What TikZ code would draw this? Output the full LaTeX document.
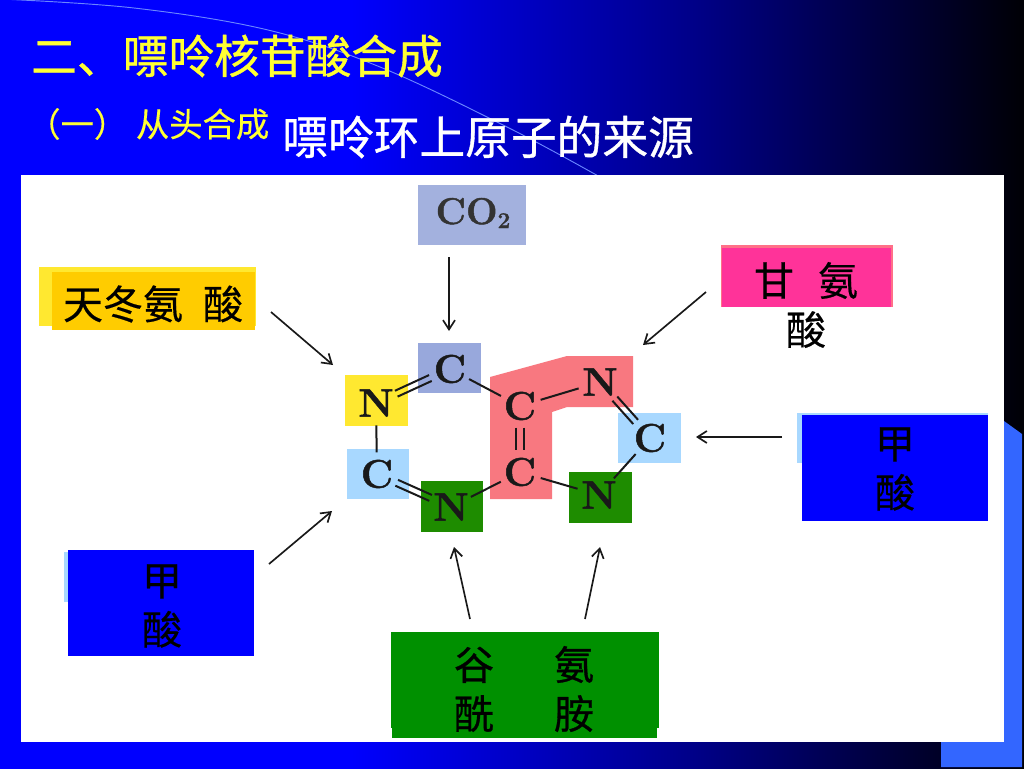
\documentclass[tikz,border=0pt]{standalone}
\usepackage{fontspec}
\usetikzlibrary{arrows.meta}
\setmainfont[BoldFeatures={FakeBold=1.2}]{Latin Modern Roman}
\newfontfamily\cjk[FakeBold=0.4]{Noto Sans CJK SC}
\newfontfamily\cjkb[FakeBold=0.8]{Noto Sans CJK SC}
\pgfdeclarehorizontalshading{slidebg}{100bp}{rgb(0bp)=(0,0,1);rgb(42bp)=(0,0,1);rgb(59bp)=(0,0,0.53);rgb(75bp)=(0,0,0.02);rgb(100bp)=(0,0,0)}
\definecolor{ttlyellow}{HTML}{FFFF33}
\definecolor{boxcotwo}{HTML}{A3B1DE}
\definecolor{boxblue}{HTML}{98A8DC}
\definecolor{boxyellow}{HTML}{FFE830}
\definecolor{boxorange}{HTML}{FFCC00}
\definecolor{boxsky}{HTML}{A8D8FF}
\definecolor{boxgreen}{HTML}{1E8C00}
\definecolor{boxpink}{HTML}{FF3399}
\definecolor{boxpinkback}{HTML}{FF7088}
\definecolor{regionred}{HTML}{F87880}
\definecolor{labelgreen}{HTML}{009000}
\definecolor{cornerblue}{HTML}{3366FF}
\definecolor{swoosh}{HTML}{6A86FF}
\tikzset{
  x=0.75pt,y=-0.75pt,
  colorbox/.style={rectangle,inner sep=0pt,outer sep=0pt,anchor=north west},
  atom/.style={circle,inner sep=0pt,outer sep=0pt,minimum size=26pt,font=\bfseries\fontsize{30}{30}\selectfont,text=black!90},
  bondline/.style={line width=1.5pt,black!90},
  feedarrow/.style={line width=1.25pt,black!90,-{Straight Barb[length=7pt,width=9pt]}},
  labeltext/.style={font=\cjk\fontsize{30}{36.8}\selectfont,text=black,align=center,inner sep=0pt},
  titletext/.style={font=\cjkb\fontsize{34.3}{40}\selectfont,inner sep=0pt,anchor=west}
}
\begin{document}
\begin{tikzpicture}
\useasboundingbox (0,0) rectangle (1024,768);
% slide background
\shade[shading=slidebg] (0,0) rectangle (1024,768);
\draw[swoosh,line width=0.7pt] plot[smooth,tension=0.6] coordinates {(0,-1) (134,8) (268,30) (380,67) (509,128) (600,177)};
% slide corner
\fill[cornerblue] (941,742) -- (1004,742) -- (1004,421) -- (1022,434) -- (1022,767) -- (941,767) -- cycle;
% white panel
\fill[white] (21,175) rectangle (1004,742);
% titles
\node[titletext,text=ttlyellow] (title) at (31,56) {二、嘌呤核苷酸合成};
\node[titletext,text=ttlyellow,font=\cjk\fontsize{25}{30}\selectfont] (subtitle) at (27,124) {（一）\hspace{6.5pt}从头合成};
\node[titletext,text=white] (heading) at (282,137) {嘌呤环上原子的来源};
% source boxes
\node[colorbox,fill=boxcotwo,minimum width=81pt,minimum height=45pt] (co2box) at (418,185) {};
\node[font=\bfseries\fontsize{28}{28}\selectfont,text=black!80,inner sep=0pt] (co2) at (473,213) {CO\raisebox{-3pt}{\fontsize{17}{17}\selectfont 2}};
\node[colorbox,fill=boxyellow,minimum width=162.75pt,minimum height=44.25pt] (aspback) at (39,267) {};
\node[colorbox,fill=boxorange,minimum width=152.25pt,minimum height=43.5pt] (aspbox) at (52,272) {};
\node[labeltext] (asp) at (153,304) {天冬氨\hspace{0.5em}酸};
\node[colorbox,fill=boxpinkback,minimum width=129pt,minimum height=46.5pt] (glyback) at (721,245) {};
\node[colorbox,fill=boxpink,minimum width=127pt,minimum height=44pt] (glybox) at (722,248) {};
\node[labeltext] (gly) at (806,305) {甘\hspace{0.6em}氨\\酸};
\node[colorbox,fill=boxsky,minimum width=143pt,minimum height=37.5pt] (forrback) at (797,413) {};
\node[colorbox,fill=blue,minimum width=139.5pt,minimum height=79.5pt] (forrbox) at (802,415) {};
\node[labeltext] (forr) at (895,469) {甲\\酸};
\node[colorbox,fill=boxsky,minimum width=30pt,minimum height=37.5pt] (forlback) at (64,552) {};
\node[colorbox,fill=blue,minimum width=139.5pt,minimum height=79.5pt] (forlbox) at (68,550) {};
\node[labeltext] (forl) at (162,606) {甲\\酸};
\node[colorbox,fill=labelgreen,minimum width=201pt,minimum height=72pt] (glnback) at (391,632) {};
\node[colorbox,fill=labelgreen,minimum width=199pt,minimum height=22.5pt] (glnbox) at (392,708) {};
\node[labeltext,font=\cjkb\fontsize{30}{36.8}\selectfont] (gln) at (524,689) {谷\hspace{1.5em}氨\\酰\hspace{1.5em}胺};
% ring colour regions
\fill[regionred] (490,377) -- (567,356) -- (633,356) -- (633,407) -- (567,407) -- (552,412) -- (552,499) -- (490,499) -- cycle;
\node[colorbox,fill=boxblue,minimum width=47.25pt,minimum height=37.5pt] (b1) at (418,343) {};
\node[colorbox,fill=boxyellow,minimum width=47.25pt,minimum height=38.25pt] (b2) at (345,375) {};
\node[colorbox,fill=boxsky,minimum width=46.5pt,minimum height=37.5pt] (b3) at (347,449) {};
\node[colorbox,fill=boxgreen,minimum width=46.5pt,minimum height=38.25pt] (b4) at (421,481) {};
\node[colorbox,fill=boxgreen,minimum width=47.25pt,minimum height=38.25pt] (b5) at (569,472) {};
\node[colorbox,fill=boxsky,minimum width=47.25pt,minimum height=37.5pt] (b6) at (618,413) {};
% ring atoms
\node[atom] (c2) at (450,369) {C};
\node[atom] (n1) at (376,403) {N};
\node[atom] (c6) at (377,474) {C};
\node[atom] (n5) at (451,507) {N};
\node[atom] (c4) at (520,406) {C};
\node[atom] (c3) at (520,472) {C};
\node[atom] (n7) at (600,382) {N};
\node[atom] (c8) at (650,438) {C};
\node[atom] (n9) at (599,495) {N};
% ring bonds
\draw[bondline,transform canvas={shift={(-1pt,2.2pt)}}] (n1) -- (c2);
\draw[bondline,transform canvas={shift={(1pt,-2.2pt)}}] (n1) -- (c2);
\draw[bondline] (n1) -- (c6);
\draw[bondline,transform canvas={shift={(1pt,2.2pt)}}] (c6) -- (n5);
\draw[bondline,transform canvas={shift={(-1pt,-2.2pt)}}] (c6) -- (n5);
\draw[bondline] (n5) -- (c3);
\draw[bondline,transform canvas={shift={(-3pt,0pt)}}] (c4) -- (c3);
\draw[bondline,transform canvas={shift={(3pt,0pt)}}] (c4) -- (c3);
\draw[bondline] (c2) -- (c4);
\draw[bondline] (c4) -- (n7);
\draw[bondline] (c3) -- (n9);
\draw[bondline,transform canvas={shift={(1.8pt,1.6pt)}}] (n7) -- (c8);
\draw[bondline,transform canvas={shift={(-1.8pt,-1.6pt)}}] (n7) -- (c8);
\draw[bondline] (c8) -- (n9);
% arrow ends
\coordinate (aco2s) at (449,257);  \coordinate (aco2t) at (449,331);
\coordinate (aasps) at (271,312);  \coordinate (aaspt) at (333,365);
\coordinate (aglys) at (706,292);  \coordinate (aglyt) at (643,345);
\coordinate (afors) at (782,437);  \coordinate (afort) at (696,437);
\coordinate (afols) at (269,564);  \coordinate (afolt) at (332,511);
\coordinate (aglas) at (470,619);  \coordinate (aglat) at (454,547);
\coordinate (aglbs) at (585,619);  \coordinate (aglbt) at (600,547);
\draw[feedarrow] (aco2s) -- (aco2t);
\draw[feedarrow] (aasps) -- (aaspt);
\draw[feedarrow] (aglys) -- (aglyt);
\draw[feedarrow] (afors) -- (afort);
\draw[feedarrow] (afols) -- (afolt);
\draw[feedarrow] (aglas) -- (aglat);
\draw[feedarrow] (aglbs) -- (aglbt);
\end{tikzpicture}
\end{document}
